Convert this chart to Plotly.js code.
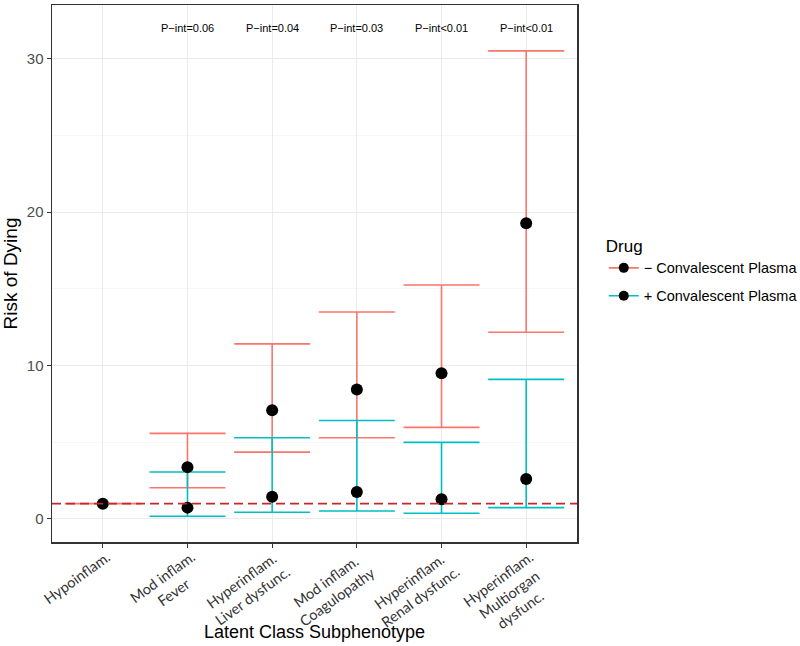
<!DOCTYPE html>
<html>
<head>
<meta charset="utf-8">
<script src="https://cdn.plot.ly/plotly-3.0.1.min.js"></script>
<style>html,body{margin:0;padding:0;background:#fff;}#chart{width:800px;height:646px;}</style>
</head>
<body>
<div id="chart"></div>
<script>
// ---- data ----
const categories = ["Hypoinflam.", "Mod inflam. Fever", "Hyperinflam. Liver dysfunc.", "Mod inflam. Coagulopathy", "Hyperinflam. Renal dysfunc.", "Hyperinflam. Multiorgan dysfunc."];
const tickLabels = ["Hypoinflam.", "Mod inflam.<br>Fever", "Hyperinflam.<br>Liver dysfunc.", "Mod inflam.<br>Coagulopathy", "Hyperinflam.<br>Renal dysfunc.", "Hyperinflam.<br>Multiorgan<br>dysfunc."];
const groupNames = ["\u2212 Convalescent Plasma", "+ Convalescent Plasma"];
const noCP_est = [1, 3.38, 7.09, 8.44, 9.50, 19.28];
const noCP_lo  = [1, 2.04, 4.36, 5.29, 5.97, 12.17];
const noCP_hi  = [1, 5.58, 11.41, 13.49, 15.25, 30.51];
const CP_est = [null, 0.74, 1.45, 1.76, 1.28, 2.60];
const CP_lo  = [null, 0.18, 0.44, 0.52, 0.37, 0.74];
const CP_hi  = [null, 3.06, 5.29, 6.42, 4.99, 9.10];
const pintLabels = ["", "P\u2212int=0.06", "P\u2212int=0.04", "P\u2212int=0.03", "P\u2212int&lt;0.01", "P\u2212int&lt;0.01"];
const pintY = 32;
const refLine = 1;

// ---- styles ----
const RED = "#F8766D", TEAL = "#00BFC4";
const capHalf = 38, barW = 1.6;
const labAngle = 36, labFont = 14.5;

function errTrace(est, lo, hi, color) {
  return {
    type: "scatter", mode: "markers", x: categories, y: est,
    marker: {size: 1, opacity: 0},
    error_y: {type: "data", symmetric: false,
      array: est.map((v, i) => v == null ? null : hi[i] - v),
      arrayminus: est.map((v, i) => v == null ? null : v - lo[i]),
      color: color, thickness: barW, width: capHalf},
    showlegend: false, hoverinfo: "skip"
  };
}
function ptTrace(est) {
  return {type: "scatter", mode: "markers", x: categories, y: est,
    marker: {size: 12, color: "#000000"}, showlegend: false};
}
function legTrace(name, color, grp) {
  return {type: "scatter", mode: "lines+markers", x: [null], y: [null], name: name,
    legendgroup: grp, line: {color: color, width: barW}, marker: {size: 10, color: "#000000"}};
}

const data = [
  errTrace(noCP_est, noCP_lo, noCP_hi, RED),
  errTrace(CP_est, CP_lo, CP_hi, TEAL),
  ptTrace(noCP_est),
  ptTrace(CP_est),
  legTrace(groupNames[0], RED, "a"),
  legTrace(groupNames[1], TEAL, "b")
];

const annotations = categories.map((c, i) => ({
  x: c, y: pintY, xref: "x", yref: "y", text: pintLabels[i], showarrow: false,
  font: {family: "Liberation Sans, Arial, sans-serif", size: 11, color: "#000"}
})).filter((a, i) => pintLabels[i] !== "");

// rotated, centre-aligned category labels (top-right corner of the text block at the tick)
const sinA = Math.sin(labAngle * Math.PI / 180);
categories.forEach((c, i) => {
  const nLines = tickLabels[i].split("<br>").length;
  const blockH = 1.3 * labFont * nLines;
  annotations.push({
    x: c, xref: "x", y: 0, yref: "paper", text: tickLabels[i], showarrow: false,
    textangle: -labAngle, xanchor: "right", yanchor: "top", align: "center",
    xshift: blockH * sinA + 2, yshift: -3,
    font: {family: "Lato, sans-serif", size: labFont, color: "#333333"}
  });
});

const layout = {
  width: 800, height: 646,
  margin: {l: 52, r: 223, t: 5, b: 104, autoexpand: false},
  paper_bgcolor: "#fff", plot_bgcolor: "#fff",
  font: {family: "Liberation Sans, Arial, sans-serif", color: "#000"},
  xaxis: {
    type: "category", range: [-0.6, 5.6],
    tickvals: categories, showticklabels: false,
    ticks: "outside", ticklen: 4, tickcolor: "#333333", tickwidth: 1,
    showgrid: true, gridcolor: "#EBEBEB", gridwidth: 1,
    showline: true, linecolor: "#333333", linewidth: 1.5, mirror: true,
    zeroline: false,
    title: {text: "Latent Class Subphenotype", font: {size: 18, color: "#000"}, standoff: 79}
  },
  yaxis: {
    range: [-1.5, 33.5], tickvals: [0, 10, 20, 30],
    tickfont: {size: 15, color: "#4D4D4D"},
    ticks: "outside", ticklen: 4, tickcolor: "#333333", tickwidth: 1,
    showgrid: true, gridcolor: "#EBEBEB", gridwidth: 1,
    minor: {tickvals: [5, 15, 25], showgrid: true, gridcolor: "#F2F2F2", gridwidth: 0.6, ticks: ""},
    showline: true, linecolor: "#333333", linewidth: 1.5, mirror: true,
    zeroline: false,
    title: {text: "Risk of Dying", font: {size: 19, color: "#000"}, standoff: 6}
  },
  shapes: [{type: "line", xref: "paper", x0: 0, x1: 1, yref: "y", y0: refLine, y1: refLine,
    line: {color: "#C8262B", width: 1.6, dash: "9px,5px"}, layer: "above"}],
  annotations: annotations,
  legend: {
    x: 1.051, xanchor: "left", y: 0.505, yanchor: "middle",
    title: {text: "Drug", font: {size: 17, color: "#000"}},
    font: {size: 14.5, color: "#000"}, tracegroupgap: 6, bgcolor: "rgba(0,0,0,0)"
  },
  showlegend: true
};

Plotly.newPlot("chart", data, layout, {staticPlot: true, displayModeBar: false});
</script>
</body>
</html>
